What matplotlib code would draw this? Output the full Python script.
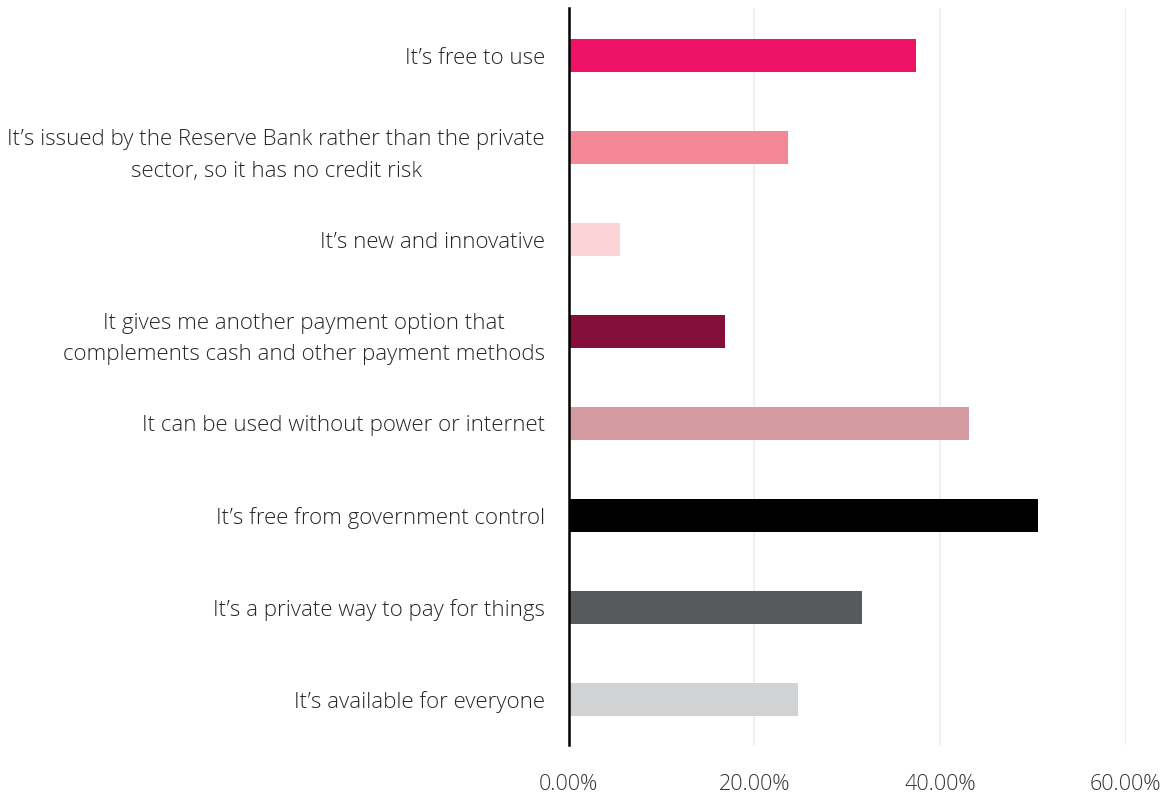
import matplotlib
matplotlib.use("Agg")
import matplotlib.pyplot as plt
from matplotlib.ticker import FuncFormatter

categories = [
    "It\u2019s free to use",
    "It\u2019s issued by the Reserve Bank rather than the private\nsector, so it has no credit risk",
    "It\u2019s new and innovative",
    "It gives me another payment option that\ncomplements cash and other payment methods",
    "It can be used without power or internet",
    "It\u2019s free from government control",
    "It\u2019s a private way to pay for things",
    "It\u2019s available for everyone",
]
values = [37.4, 23.6, 5.5, 16.9, 43.1, 50.6, 31.6, 24.7]
colors = ["#EE1266", "#F48896", "#FAD4D6", "#850F3B", "#D49CA2", "#000000", "#58595B", "#D1D2D4"]
xticks = [0, 20, 40, 60]

plt.rcParams['font.family'] = ['Open Sans', 'DejaVu Sans']

fig = plt.figure(figsize=(11.73, 7.97), dpi=100)
ax = fig.add_axes([568.5/1173, 1 - 745/797, (1125.7 - 568.5)/1173, (745 - 8)/797])

y = list(range(len(categories)))
ax.barh(y, values, height=0.36, color=colors, zorder=3)
ax.set_ylim(7.5, -0.52)
ax.set_xlim(0, 60)
ax.set_xticks(xticks)
ax.xaxis.set_major_formatter(FuncFormatter(lambda v, p: f"{v:.2f}%"))
ax.set_yticks(y)
ax.set_yticklabels(categories, multialignment='center', linespacing=1.65)
for t in ax.get_yticklabels():
    t.set_fontweight('light')
for t in ax.get_xticklabels():
    t.set_fontweight('light')
ax.tick_params(axis='y', length=0, pad=17, labelsize=16, labelcolor='#262626')
ax.tick_params(axis='x', length=0, pad=21, labelsize=15.5, labelcolor='#333333')
ax.grid(axis='x', color='#F0F0F0', linewidth=1.5, zorder=0)
for s in ['top', 'right', 'bottom']:
    ax.spines[s].set_visible(False)
ax.spines['left'].set_color('black')
ax.spines['left'].set_linewidth(1.8)
ax.spines['left'].set_zorder(4)

fig.savefig("out.png", dpi=100)
